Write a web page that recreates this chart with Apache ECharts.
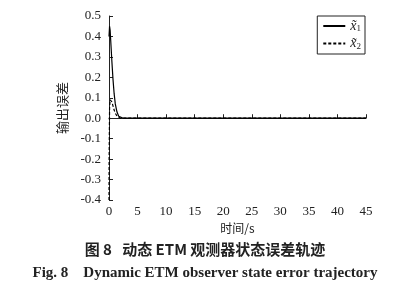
<!DOCTYPE html>
<html><head><meta charset="utf-8">
<script src="https://cdn.jsdelivr.net/npm/echarts@6/dist/echarts.min.js"></script>
<style>html,body{margin:0;padding:0;background:#fff}#c{width:410px;height:296px}</style>
</head><body><div id="c"></div>
<script>
const timeS = [0, 0.1, 0.2, 0.3, 0.5, 0.7, 0.9, 1.1, 1.4, 1.7, 2.0, 2.5, 3.0, 45];
const x1Err = [0.40, 0.45, 0.43, 0.38, 0.28, 0.19, 0.12, 0.07, 0.03, 0.01, 0.003, 0.0, 0.0, 0.0];
const timeS2 = [0, 0.02, 0.1, 0.2, 0.3, 0.5, 0.7, 0.9, 1.1, 1.4, 1.7, 2.0, 3.0, 45];
const x2Err = [-0.4, -0.2, 0.05, 0.09, 0.09, 0.08, 0.06, 0.04, 0.025, 0.01, 0.004, 0.0, 0.0, 0.0];
const yTicks = [-0.4, -0.3, -0.2, -0.1, 0.0, 0.1, 0.2, 0.3, 0.4, 0.5];
const xTicks = [0, 5, 10, 15, 20, 25, 30, 35, 40, 45];

const serif = 'Liberation Serif, Times New Roman, serif';
const chart = echarts.init(document.getElementById('c'));
chart.setOption({
  animation: false,
  grid: {left: 109, right: 44, top: 16, bottom: 96},
  xAxis: {
    type: 'value', min: 0, max: 45, interval: 5,
    name: '时间/s', nameLocation: 'middle', nameGap: 21,
    nameTextStyle: {fontFamily: 'Noto Sans CJK SC, serif', fontSize: 12, color: '#222'},
    axisLine: {lineStyle: {color: '#222', width: 1}},
    axisTick: {inside: true, length: 4, lineStyle: {color: '#222'}},
    axisLabel: {fontFamily: serif, fontSize: 13, color: '#222', margin: 5},
    splitLine: {show: false}
  },
  yAxis: {
    type: 'value', min: -0.4, max: 0.5, interval: 0.1,
    name: '输出误差', nameLocation: 'middle', nameGap: 40,
    nameTextStyle: {fontFamily: 'Noto Sans CJK SC, serif', fontSize: 13, color: '#222', padding: [0, 0, 0, 0]},
    axisLine: {show: true, lineStyle: {color: '#222', width: 1}},
    axisTick: {show: true, inside: true, length: 4, lineStyle: {color: '#222'}},
    axisLabel: {fontFamily: serif, fontSize: 13, color: '#222', margin: 8,
      formatter: v => (v < 0 ? '-' : '') + Math.abs(v).toFixed(1)},
    splitLine: {show: false}
  },
  legend: {
    right: 45, top: 16, orient: 'vertical',
    borderColor: '#222', borderWidth: 1, borderRadius: 0, padding: [3, 4, 3, 5],
    itemWidth: 22, itemHeight: 10, itemGap: 3,
    itemStyle: {opacity: 0},
    data: ['x1', 'x2'],
    formatter: n => n === 'x1' ? '{x|x\u0303}{s|1}' : '{x|x\u0303}{s|2}',
    textStyle: {rich: {
      x: {fontFamily: serif, fontStyle: 'italic', fontSize: 14, color: '#222'},
      s: {fontFamily: serif, fontSize: 9, color: '#222', verticalAlign: 'bottom', padding: [6, 0, 0, 0]}
    }}
  },
  series: [
    {name: 'x1', type: 'line', symbol: 'none', data: timeS.map((t, i) => [t, x1Err[i]]),
      lineStyle: {color: '#000', width: 1.2, type: 'solid'}, itemStyle: {color: '#000'}},
    {name: 'x2', type: 'line', symbol: 'none', data: timeS2.map((t, i) => [t, x2Err[i]]),
      lineStyle: {color: '#000', width: 1.2, type: [3, 2]}, itemStyle: {color: '#000'}}
  ],
  graphic: [
    {type: 'text', left: 'center', top: 242, style: {text: '图 8   动态 ETM 观测器状态误差轨迹',
      font: 'bold 15px Noto Sans CJK SC, serif', fill: '#222'}},
    {type: 'text', left: 'center', top: 266, style: {text: 'Fig. 8    Dynamic ETM observer state error trajectory',
      font: 'bold 15px Liberation Serif, serif', fill: '#222'}}
  ]
});
</script></body></html>
